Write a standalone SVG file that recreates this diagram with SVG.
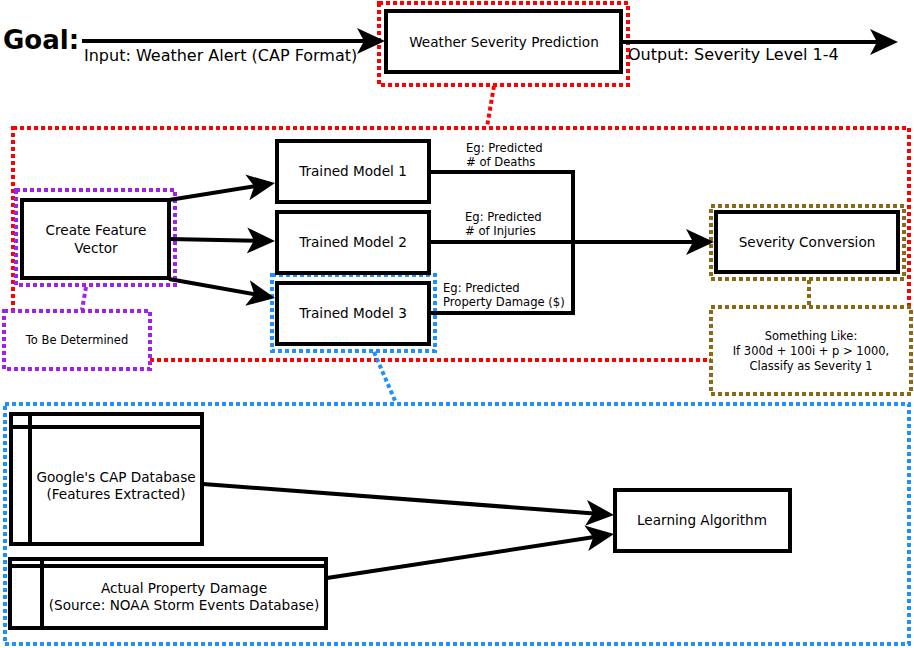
<svg xmlns="http://www.w3.org/2000/svg" width="914" height="648" viewBox="0 0 914 648">
<style>
text{font-family:"DejaVu Sans","Liberation Sans",sans-serif;fill:#000}
.box{fill:#fff;stroke:#000;stroke-width:4}
.db{fill:#fff;stroke:#000;stroke-width:4}
.in{fill:none;stroke:#000;stroke-width:4}
.conn{fill:none;stroke:#000;stroke-width:4}
.red{fill:none;stroke:#ff0000;stroke-width:4;stroke-dasharray:4 3}
.purple{fill:none;stroke:#a020f0;stroke-width:4;stroke-dasharray:4 3}
.blue{fill:none;stroke:#1e90ff;stroke-width:4;stroke-dasharray:4 3}
.brown{fill:none;stroke:#8b6914;stroke-width:4;stroke-dasharray:4 3}
.wf{fill:#fff}
.t13{font-size:13.6px;text-anchor:middle}
.t12{font-size:11.6px}
.t12m{font-size:11.5px;text-anchor:middle}
.t16{font-size:16px}
</style>
<defs>
<marker id="ah" viewBox="0 0 28 28" refX="18" refY="14" markerWidth="28" markerHeight="28" markerUnits="userSpaceOnUse" orient="auto">
<path d="M0,1 L28,14 L0,27 L7,14 z" fill="#000"/>
</marker>
</defs>

<text x="3" y="49" style="font-size:26px;font-weight:bold">Goal:</text>

<g id="groups">
<rect class="red" x="13" y="128" width="896" height="232"/>
<rect class="red" x="379" y="3" width="249" height="82"/>
<line class="red" x1="494" y1="86" x2="487" y2="127"/>
<rect class="purple" x="16" y="190" width="159" height="95"/>
<line class="purple" x1="86" y1="287" x2="82" y2="310"/>
<rect class="blue" x="272" y="275" width="163" height="76"/>
<line class="blue" x1="374" y1="352" x2="396" y2="403"/>
<rect class="blue" x="5" y="404" width="904" height="240"/>
<rect class="brown" x="711" y="206" width="193" height="73"/>
<line class="brown" x1="809" y1="280" x2="809" y2="306"/>
</g>

<g id="connectors">
<line class="conn" x1="82" y1="41" x2="375" y2="41" marker-end="url(#ah)"/>
<line class="conn" x1="621" y1="42" x2="888" y2="42" marker-end="url(#ah)"/>
<line class="conn" x1="169" y1="200" x2="265.1" y2="184.6" marker-end="url(#ah)"/>
<line class="conn" x1="169" y1="239" x2="265" y2="240.8" marker-end="url(#ah)"/>
<line class="conn" x1="169" y1="279" x2="265.2" y2="296.2" marker-end="url(#ah)"/>
<polyline class="conn" points="431,172 573,172 573,313 431,313"/>
<line class="conn" x1="431" y1="242" x2="704" y2="242" marker-end="url(#ah)"/>
<line class="conn" x1="203" y1="484" x2="604" y2="514.2" marker-end="url(#ah)"/>
<line class="conn" x1="327" y1="578" x2="604.1" y2="535.5" marker-end="url(#ah)"/>
</g>

<g id="labels">
<text class="t16" x="84" y="61">Input: Weather Alert (CAP Format)</text>
<text class="t16" x="628" y="60">Output: Severity Level 1-4</text>
<text class="t12" x="466" y="152">Eg: Predicted</text>
<text class="t12" x="466" y="166"># of Deaths</text>
<text class="t12" x="465" y="221">Eg: Predicted</text>
<text class="t12" x="465" y="235"># of Injuries</text>
<text class="t12" x="443" y="292">Eg: Predicted</text>
<text class="t12" x="443" y="306">Property Damage ($)</text>
</g>

<g id="wsp">
<rect class="box" x="386" y="11" width="235" height="61"/>
<text class="t13" x="504" y="47">Weather Severity Prediction</text>
</g>

<g id="cfv">
<rect class="box" x="22" y="200" width="147" height="78"/>
<text class="t13" x="96" y="235">Create Feature</text>
<text class="t13" x="96" y="253">Vector</text>
</g>

<g id="tbd">
<rect class="wf" x="4" y="311" width="146" height="58"/>
<rect class="purple" x="4" y="311" width="146" height="58"/>
<text class="t12m" x="77" y="344">To Be Determined</text>
</g>

<g id="tm1">
<rect class="box" x="277" y="141" width="152" height="61"/>
<text class="t13" x="353" y="176">Trained Model 1</text>
</g>
<g id="tm2">
<rect class="box" x="277" y="212" width="152" height="61"/>
<text class="t13" x="353" y="247">Trained Model 2</text>
</g>
<g id="tm3">
<rect class="box" x="277" y="283" width="152" height="61"/>
<text class="t13" x="353" y="318">Trained Model 3</text>
</g>

<g id="sc">
<rect class="box" x="716" y="212" width="182" height="60"/>
<text class="t13" x="807" y="247">Severity Conversion</text>
</g>

<g id="sl">
<rect class="wf" x="711" y="307" width="200" height="87"/>
<rect class="brown" x="711" y="307" width="200" height="87"/>
<text class="t12m" x="811" y="340">Something Like:</text>
<text class="t12m" x="811" y="355">If 300d + 100i + p &gt; 1000,</text>
<text class="t12m" x="811" y="370">Classify as Severity 1</text>
</g>

<g id="gcap">
<rect class="db" x="11" y="414" width="191" height="130"/>
<line class="in" x1="11" y1="427" x2="202" y2="427"/>
<line class="in" x1="30" y1="414" x2="30" y2="544"/>
<text class="t13" x="116" y="482">Google's CAP Database</text>
<text class="t13" x="116" y="499">(Features Extracted)</text>
</g>

<g id="apd">
<rect class="db" x="10" y="559" width="316" height="69"/>
<line class="in" x1="10" y1="566" x2="326" y2="566"/>
<line class="in" x1="42" y1="559" x2="42" y2="628"/>
<text class="t13" x="184" y="593">Actual Property Damage</text>
<text class="t13" x="184" y="610">(Source: NOAA Storm Events Database)</text>
</g>

<g id="la">
<rect class="box" x="615" y="490" width="175" height="61"/>
<text class="t13" x="702" y="525">Learning Algorithm</text>
</g>
</svg>
